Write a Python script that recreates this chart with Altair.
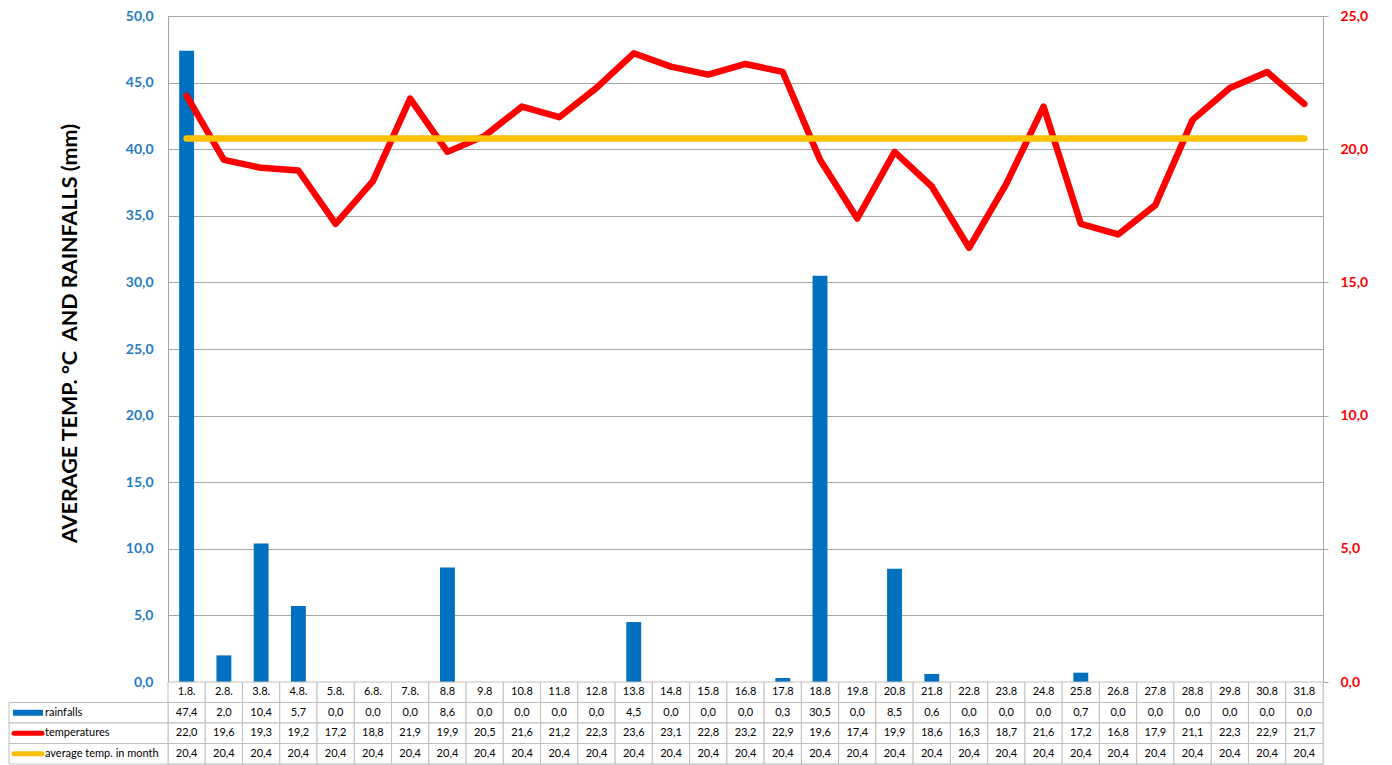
import altair as alt
import pandas as pd

days = ["1.8.", "2.8.", "3.8.", "4.8.", "5.8.", "6.8.", "7.8.", "8.8", "9.8", "10.8",
        "11.8", "12.8", "13.8", "14.8", "15.8", "16.8", "17.8", "18.8", "19.8", "20.8",
        "21.8", "22.8", "23.8", "24.8", "25.8", "26.8", "27.8", "28.8", "29.8", "30.8", "31.8"]
rainfalls = [47.4, 2.0, 10.4, 5.7, 0.0, 0.0, 0.0, 8.6, 0.0, 0.0,
             0.0, 0.0, 4.5, 0.0, 0.0, 0.0, 0.3, 30.5, 0.0, 8.5,
             0.6, 0.0, 0.0, 0.0, 0.7, 0.0, 0.0, 0.0, 0.0, 0.0, 0.0]
temperatures = [22.0, 19.6, 19.3, 19.2, 17.2, 18.8, 21.9, 19.9, 20.5, 21.6,
                21.2, 22.3, 23.6, 23.1, 22.8, 23.2, 22.9, 19.6, 17.4, 19.9,
                18.6, 16.3, 18.7, 21.6, 17.2, 16.8, 17.9, 21.1, 22.3, 22.9, 21.7]
avg_temp = [20.4, 20.4, 20.4, 20.4, 20.4, 20.4, 20.4, 20.4, 20.4, 20.4,
            20.4, 20.4, 20.4, 20.4, 20.4, 20.4, 20.4, 20.4, 20.4, 20.4,
            20.4, 20.4, 20.4, 20.4, 20.4, 20.4, 20.4, 20.4, 20.4, 20.4, 20.4]
left_ticks = [0, 5, 10, 15, 20, 25, 30, 35, 40, 45, 50]
right_ticks = [0, 5, 10, 15, 20, 25]
series_names = ["rainfalls", "temperatures", "average temp. in month"]
series_colors = ["#0070C0", "#FF0000", "#FFC000"]
table_rows = ["day"] + series_names

FONT = "Lato"
W, H, TH = 1155, 666, 82


def fmt(v):
    return f"{v:.1f}".replace(".", ",")


main_df = pd.DataFrame({"day": days, "rain": rainfalls, "temp": temperatures, "avg": avg_temp})
comma_expr = "replace(format(datum.value, '.1f'), '.', ',')"
xscale = alt.Scale(paddingInner=0, paddingOuter=0)

bars = alt.Chart(main_df).mark_bar(color="#0070C0", width=alt.RelativeBandSize(0.4)).encode(
    x=alt.X("day:N", sort=days, scale=xscale, axis=None),
    y=alt.Y("rain:Q", scale=alt.Scale(domain=[0, 50], nice=False),
            axis=alt.Axis(values=left_ticks, labelExpr=comma_expr,
                          title="AVERAGE TEMP. °C \u00a0AND RAINFALLS (mm)",
                          titleFont=FONT, titleFontSize=21.5, titleFontWeight="bold",
                          titleColor="#000000", titlePadding=44, titleY=317,
                          labelFont=FONT, labelFontSize=14, labelFontWeight="bold",
                          labelColor="#1F7BC8", labelPadding=15, ticks=False,
                          domainColor="#A6A6A6", grid=True, gridColor="#A6A6A6"))
)

temp_line = alt.Chart(main_df).mark_line(color="#FF0000", strokeWidth=6.5,
                                         strokeCap="round", strokeJoin="round").encode(
    x=alt.X("day:N", sort=days, scale=xscale, axis=None, bandPosition=0.5),
    y=alt.Y("temp:Q", scale=alt.Scale(domain=[0, 25], nice=False),
            axis=alt.Axis(orient="right", values=right_ticks, labelExpr=comma_expr,
                          title=None, grid=False,
                          labelFont=FONT, labelFontSize=14, labelFontWeight="bold",
                          labelColor="#FF0000", labelPadding=12, tickSize=5,
                          tickColor="#A6A6A6", domainColor="#A6A6A6"))
)

avg_line = alt.Chart(main_df).mark_line(color="#FFC000", strokeWidth=6.5,
                                        strokeCap="round", strokeJoin="round").encode(
    x=alt.X("day:N", sort=days, scale=xscale, axis=None, bandPosition=0.5),
    y=alt.Y("avg:Q", scale=alt.Scale(domain=[0, 25], nice=False), axis=None)
)

main = alt.layer(bars, temp_line, avg_line).resolve_scale(y="independent").properties(
    width=W, height=H)

# data table under the plot
recs = []
for i, d in enumerate(days):
    recs.append({"day": d, "row": "day", "label": d})
    recs.append({"day": d, "row": "rainfalls", "label": fmt(rainfalls[i])})
    recs.append({"day": d, "row": "temperatures", "label": fmt(temperatures[i])})
    recs.append({"day": d, "row": "average temp. in month", "label": fmt(avg_temp[i])})
table_df = pd.DataFrame(recs)
legend_df = pd.DataFrame({"row": series_names, "color": series_colors})

yscale = alt.Scale(paddingInner=0, paddingOuter=0)
tx = alt.X("day:N", sort=days, scale=xscale, axis=None)
ty = alt.Y("row:N", sort=table_rows, scale=yscale, axis=None)

cells = alt.Chart(table_df).mark_rect(fill="white", stroke="#BFBFBF", strokeWidth=1).encode(
    x=tx, y=ty)
texts = alt.Chart(table_df).mark_text(font=FONT, fontSize=11, color="#000000").encode(
    x=alt.X("day:N", sort=days, scale=xscale, axis=None, bandPosition=0.5),
    y=alt.Y("row:N", sort=table_rows, scale=yscale, axis=None, bandPosition=0.5),
    text="label:N")

leg_cells = alt.Chart(legend_df).mark_rect(fill="white", stroke="#BFBFBF", strokeWidth=1).encode(
    x=alt.value(-159), x2=alt.value(0), y=ty)
ly = alt.Y("row:N", sort=table_rows, scale=yscale, axis=None, bandPosition=0.5)
colscale = alt.Scale(domain=series_names, range=series_colors)
leg_bar = alt.Chart(legend_df).transform_filter(alt.datum.row == "rainfalls").mark_rule(
    strokeWidth=6, strokeCap="butt").encode(
    x=alt.value(-155), x2=alt.value(-125), y=ly,
    color=alt.Color("row:N", scale=colscale, legend=None))
leg_lines = alt.Chart(legend_df).transform_filter(alt.datum.row != "rainfalls").mark_rule(
    strokeWidth=5, strokeCap="round").encode(
    x=alt.value(-154), x2=alt.value(-126), y=ly,
    color=alt.Color("row:N", scale=colscale, legend=None))
leg_text = alt.Chart(legend_df).mark_text(font=FONT, fontSize=11, color="#000000",
                                          align="left").encode(
    x=alt.value(-123), y=ly, text="row:N")

table = alt.layer(cells, texts, leg_cells, leg_bar, leg_lines, leg_text).properties(
    width=W, height=TH)

chart = alt.vconcat(main, table, spacing=0, bounds="flush").properties(
    padding=0).configure_view(stroke=None).configure(font=FONT)

chart.save("out.html", embed_options={"renderer": "svg", "actions": False})
